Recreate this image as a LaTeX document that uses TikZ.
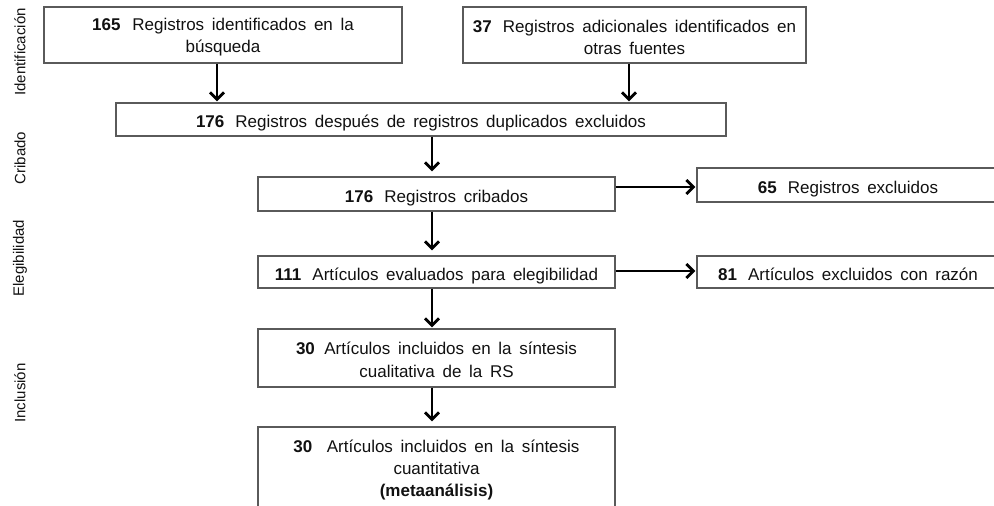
\documentclass[tikz,border=0pt]{standalone}
\usepackage{fontspec}
\setmainfont{Liberation Sans}
\usetikzlibrary{arrows.meta}
\definecolor{boxgray}{HTML}{5A5A5A}
\definecolor{txt}{HTML}{111111}
\newcommand{\widesp}{\spaceskip=0.45em plus 0.1em\relax}
\newcommand{\toprule}{\rule{0pt}{16.5pt}}
\begin{document}
\begin{tikzpicture}[x=1pt,y=-1pt,
  box/.style={draw=boxgray, line width=1.1pt, fill=white, text=txt,
    inner sep=0pt, font=\fontsize{17}{22}\selectfont, execute at begin node=\widesp},
  onebox/.style={box, text height=18.5pt, text depth=2.5pt},
  multibox/.style={box, align=center},
  arr/.style={-{Straight Barb[length=7pt,width=14pt]}, line width=2.8pt, black, shorten >=1pt},
  gap/.style={shorten >=5pt},
  side/.style={rotate=90, text=txt, font=\fontsize{15}{18}\selectfont}]
\useasboundingbox (0,0) rectangle (994,506);
\clip (0,0) rectangle (994,506);
% side labels
\node[side] (l1) at (20,52) {Identificación};
\node[side] (l2) at (20,158) {Cribado};
\node[side] (l3) at (20,258) {Elegibilidad};
\node[side] (l4) at (20,393) {Inclusión};
% boxes
\node[multibox, minimum width=358pt, minimum height=56pt] (A) at (223,35)
  {\toprule\textbf{165}\hspace{0.25em} Registros identificados en la\\búsqueda};
\node[multibox, minimum width=343pt, minimum height=56pt] (B) at (634.5,35)
  {\toprule\textbf{37}\hspace{0.2em} Registros adicionales identificados en\\otras fuentes};
\node[onebox, minimum width=610pt, minimum height=33pt] (C) at (421,119.5)
  {\textbf{176}\hspace{0.2em} Registros después de registros duplicados excluidos};
\node[onebox, minimum width=357pt, minimum height=34pt] (D) at (436.5,194)
  {\textbf{176}\hspace{0.2em} Registros cribados};
\node[onebox, minimum width=302pt, minimum height=34pt] (E) at (848,185)
  {\textbf{65}\hspace{0.2em} Registros excluidos};
\node[onebox, minimum width=357pt, minimum height=32pt] (F) at (436.5,272)
  {\textbf{111}\hspace{0.2em} Artículos evaluados para elegibilidad};
\node[onebox, minimum width=302pt, minimum height=32pt] (G) at (848,272)
  {\textbf{81}\hspace{0.2em} Artículos excluidos con razón};
\node[multibox, minimum width=357pt, minimum height=58pt] (H) at (436.5,358)
  {\toprule\textbf{30}\hspace{0.1em} Artículos incluidos en la síntesis\\[1pt]cualitativa de la RS};
\node[multibox, minimum width=357pt, minimum height=86pt] (I) at (436.5,470)
  {\textbf{30}\hspace{0.4em} Artículos incluidos en la síntesis\\cuantitativa\\\textbf{(metaanálisis)}};
% connectors
\coordinate (ax) at (432,0);
\draw[arr] ([xshift=-6pt]A.south) -- ([xshift=-6pt]A.south |- C.north);
\draw[arr] ([xshift=-5.5pt]B.south) -- ([xshift=-5.5pt]B.south |- C.north);
\draw[arr, gap] (C.south -| ax) -- (D.north -| ax);
\draw[arr, gap] (D.south -| ax) -- (F.north -| ax);
\draw[arr] (F.south -| ax) -- (H.north -| ax);
\draw[arr, gap] (H.south -| ax) -- (I.north -| ax);
\draw[arr] ([yshift=-2pt]D.east |- E.west) -- ([yshift=-2pt]E.west);
\draw[arr] ([yshift=1pt]F.east) -- ([yshift=1pt]G.west);
\end{tikzpicture}
\end{document}
